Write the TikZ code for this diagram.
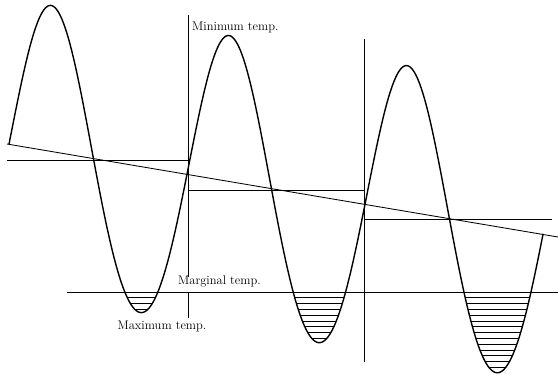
\documentclass[tikz,border=0pt]{standalone}
\begin{document}
\begin{tikzpicture}[x=1pt,y=-1pt,
  wavecurve/.style={line width=1.4pt,line join=round},
  guide/.style={line width=0.85pt},
  hatchline/.style={line width=0.8pt},
  lbl/.style={inner sep=0pt,font=\fontsize{12.5}{14}\selectfont},
  declare function={ym(\x)=144+0.169*(\x-7);
    th(\x)=2.02247*(\x-51.2);
    wv(\x)=ym(\x)-146*(cos(th(\x))-0.08*sin(th(\x))*sin(th(\x)));}]
\useasboundingbox (0,0) rectangle (558,373);
% guide lines
\draw[guide] (7,144) -- (558,237);
\draw[guide] (7,160) -- (188,160);
\draw[guide] (188,190) -- (364,190);
\draw[guide] (364,219) -- (552,219);
\draw[guide] (188,15) -- (188,277);
\draw[guide] (188,292) -- (188,318);
\draw[guide] (364,39) -- (364,362);
\draw[guide] (67,292) -- (558,292);
% hatching
\foreach \c in {140.2,318.2,496.2}{
  \begin{scope}
    \clip plot[domain=\c-44:\c+44,samples=80] (\x,{wv(\x)}) -- cycle;
    \foreach \k in {1,...,14}
      \draw[hatchline] (\c-50,292+5.8*\k) -- (\c+50,292+5.8*\k);
  \end{scope}
}
% wave
\draw[wavecurve] plot[domain=9:543.1,samples=400,smooth] (\x,{wv(\x)});
% labels
\node[lbl,anchor=west] (mint) at (192,27) {Minimum temp.};
\node[lbl,anchor=west] (margt) at (178,281) {Marginal temp.};
\node[lbl] (maxt) at (162,326) {Maximum temp.};
\end{tikzpicture}
\end{document}
